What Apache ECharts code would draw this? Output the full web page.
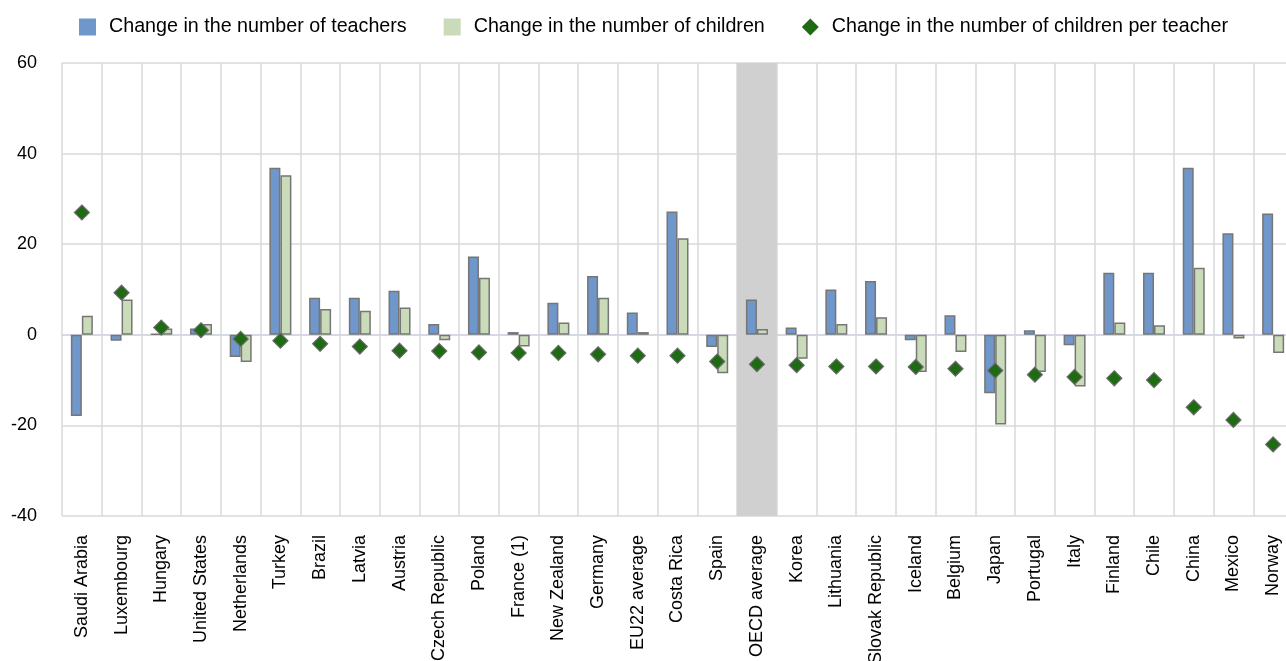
<!DOCTYPE html>
<html>
<head>
  <meta charset="utf-8">
  <title>Teachers and children</title>
  <script src="https://cdn.jsdelivr.net/npm/echarts@6/dist/echarts.min.js"></script>
  <style>
    body { margin: 0; background: #fff; }
    #main { width: 1286px; height: 661px; }
  </style>
</head>
<body>
<div id="main"></div>
<script type="text/javascript">
// data
var categories = ['Saudi Arabia', 'Luxembourg', 'Hungary', 'United States', 'Netherlands', 'Turkey', 'Brazil',
  'Latvia', 'Austria', 'Czech Republic', 'Poland', 'France (1)', 'New Zealand', 'Germany', 'EU22 average',
  'Costa Rica', 'Spain', 'OECD average', 'Korea', 'Lithuania', 'Slovak Republic', 'Iceland', 'Belgium',
  'Japan', 'Portugal', 'Italy', 'Finland', 'Chile', 'China', 'Mexico', 'Norway'];
var teachers = [-17.9, -1.3, 0.2, 1.4, -4.9, 36.9, 8.2, 8.2, 9.7, 2.4, 17.3, 0.6, 7.1, 13.0, 4.9,
  27.2, -2.7, 7.8, 1.6, 10.0, 11.9, -1.2, 4.3, -12.9, 1.0, -2.3, 13.7, 13.7, 36.9, 22.4, 26.8];
var children = [4.2, 7.8, 1.4, 2.4, -6.0, 35.2, 5.7, 5.3, 6.0, -1.2, 12.6, -2.6, 2.7, 8.2, 0.6,
  21.3, -8.5, 1.3, -5.3, 2.4, 3.9, -8.2, -3.8, -19.8, -8.2, -11.4, 2.7, 2.1, 14.8, -0.8, -4.0];
var perTeacher = [27.0, 9.3, 1.6, 1.0, -0.9, -1.3, -2.0, -2.6, -3.5, -3.6, -3.9, -4.0, -4.0, -4.3, -4.6,
  -4.6, -5.9, -6.5, -6.7, -7.0, -7.0, -7.1, -7.5, -7.9, -8.8, -9.3, -9.6, -10.0, -16.0, -18.8, -24.2];
var highlight = 'OECD average';
var yMin = -40, yMax = 60, yStep = 20;

var font = "'Liberation Sans', Arial, sans-serif";
var myChart = echarts.init(document.getElementById('main'));

// grey band behind the highlighted column
var bandUp = categories.map(function (c) { return c === highlight ? yMax : '-'; });
var bandDown = categories.map(function (c) { return c === highlight ? yMin : '-'; });

myChart.setOption({
  animation: false,
  textStyle: { fontFamily: font },
  legend: {
    left: 79,
    top: 17,
    padding: 0,
    itemWidth: 17,
    itemHeight: 17,
    itemGap: 37,
    itemStyle: { borderWidth: 0 },
    textStyle: { fontSize: 19.7, color: '#000', padding: [0, 0, 0, 8] },
    data: [
      { name: 'Change in the number of teachers', icon: 'rect' },
      { name: 'Change in the number of children', icon: 'rect' },
      { name: 'Change in the number of children per teacher', icon: 'diamond' }
    ]
  },
  grid: { left: 62, top: 63, width: 1231, bottom: 145, containLabel: false, outerBoundsMode: 'none' },
  xAxis: [{
    type: 'category',
    data: categories,
    axisLine: { lineStyle: { color: '#cfd6e4', width: 1.5 } },
    axisTick: { show: false },
    splitLine: { show: true, interval: 0, lineStyle: { color: '#d9d9d9', width: 1.5 } },
    axisLabel: { interval: 0, rotate: 90, fontSize: 18, color: '#000', margin: 19 }
  }, {
    type: 'category',
    data: categories,
    show: false
  }],
  yAxis: {
    type: 'value',
    min: yMin,
    max: yMax,
    interval: yStep,
    axisLine: { show: false },
    axisTick: { show: false },
    splitLine: { lineStyle: { color: '#d9d9d9', width: 1.5 } },
    axisLabel: { fontSize: 18, color: '#000', margin: 25 }
  },
  series: [{
    name: 'band',
    type: 'bar',
    xAxisIndex: 1,
    stack: 'band',
    barWidth: '100%',
    silent: true,
    itemStyle: { color: '#d0d0d0' },
    data: bandUp
  }, {
    name: 'band2',
    type: 'bar',
    xAxisIndex: 1,
    stack: 'band',
    barWidth: '100%',
    silent: true,
    itemStyle: { color: '#d0d0d0' },
    data: bandDown
  }, {
    name: 'Change in the number of teachers',
    type: 'bar',
    barWidth: 11,
    barGap: '0%',
    itemStyle: { color: '#7097cb', borderColor: '#767676', borderWidth: 1.5 },
    data: teachers
  }, {
    name: 'Change in the number of children',
    type: 'bar',
    barWidth: 11,
    barGap: '0%',
    itemStyle: { color: '#cadbb9', borderColor: '#767676', borderWidth: 1.5 },
    data: children
  }, {
    name: 'Change in the number of children per teacher',
    type: 'scatter',
    symbol: 'diamond',
    symbolSize: 15,
    z: 5,
    itemStyle: { color: '#1e6b14', borderColor: '#6a6a6a', borderWidth: 1.2, opacity: 1 },
    data: perTeacher
  }]
});
</script>
</body>
</html>
